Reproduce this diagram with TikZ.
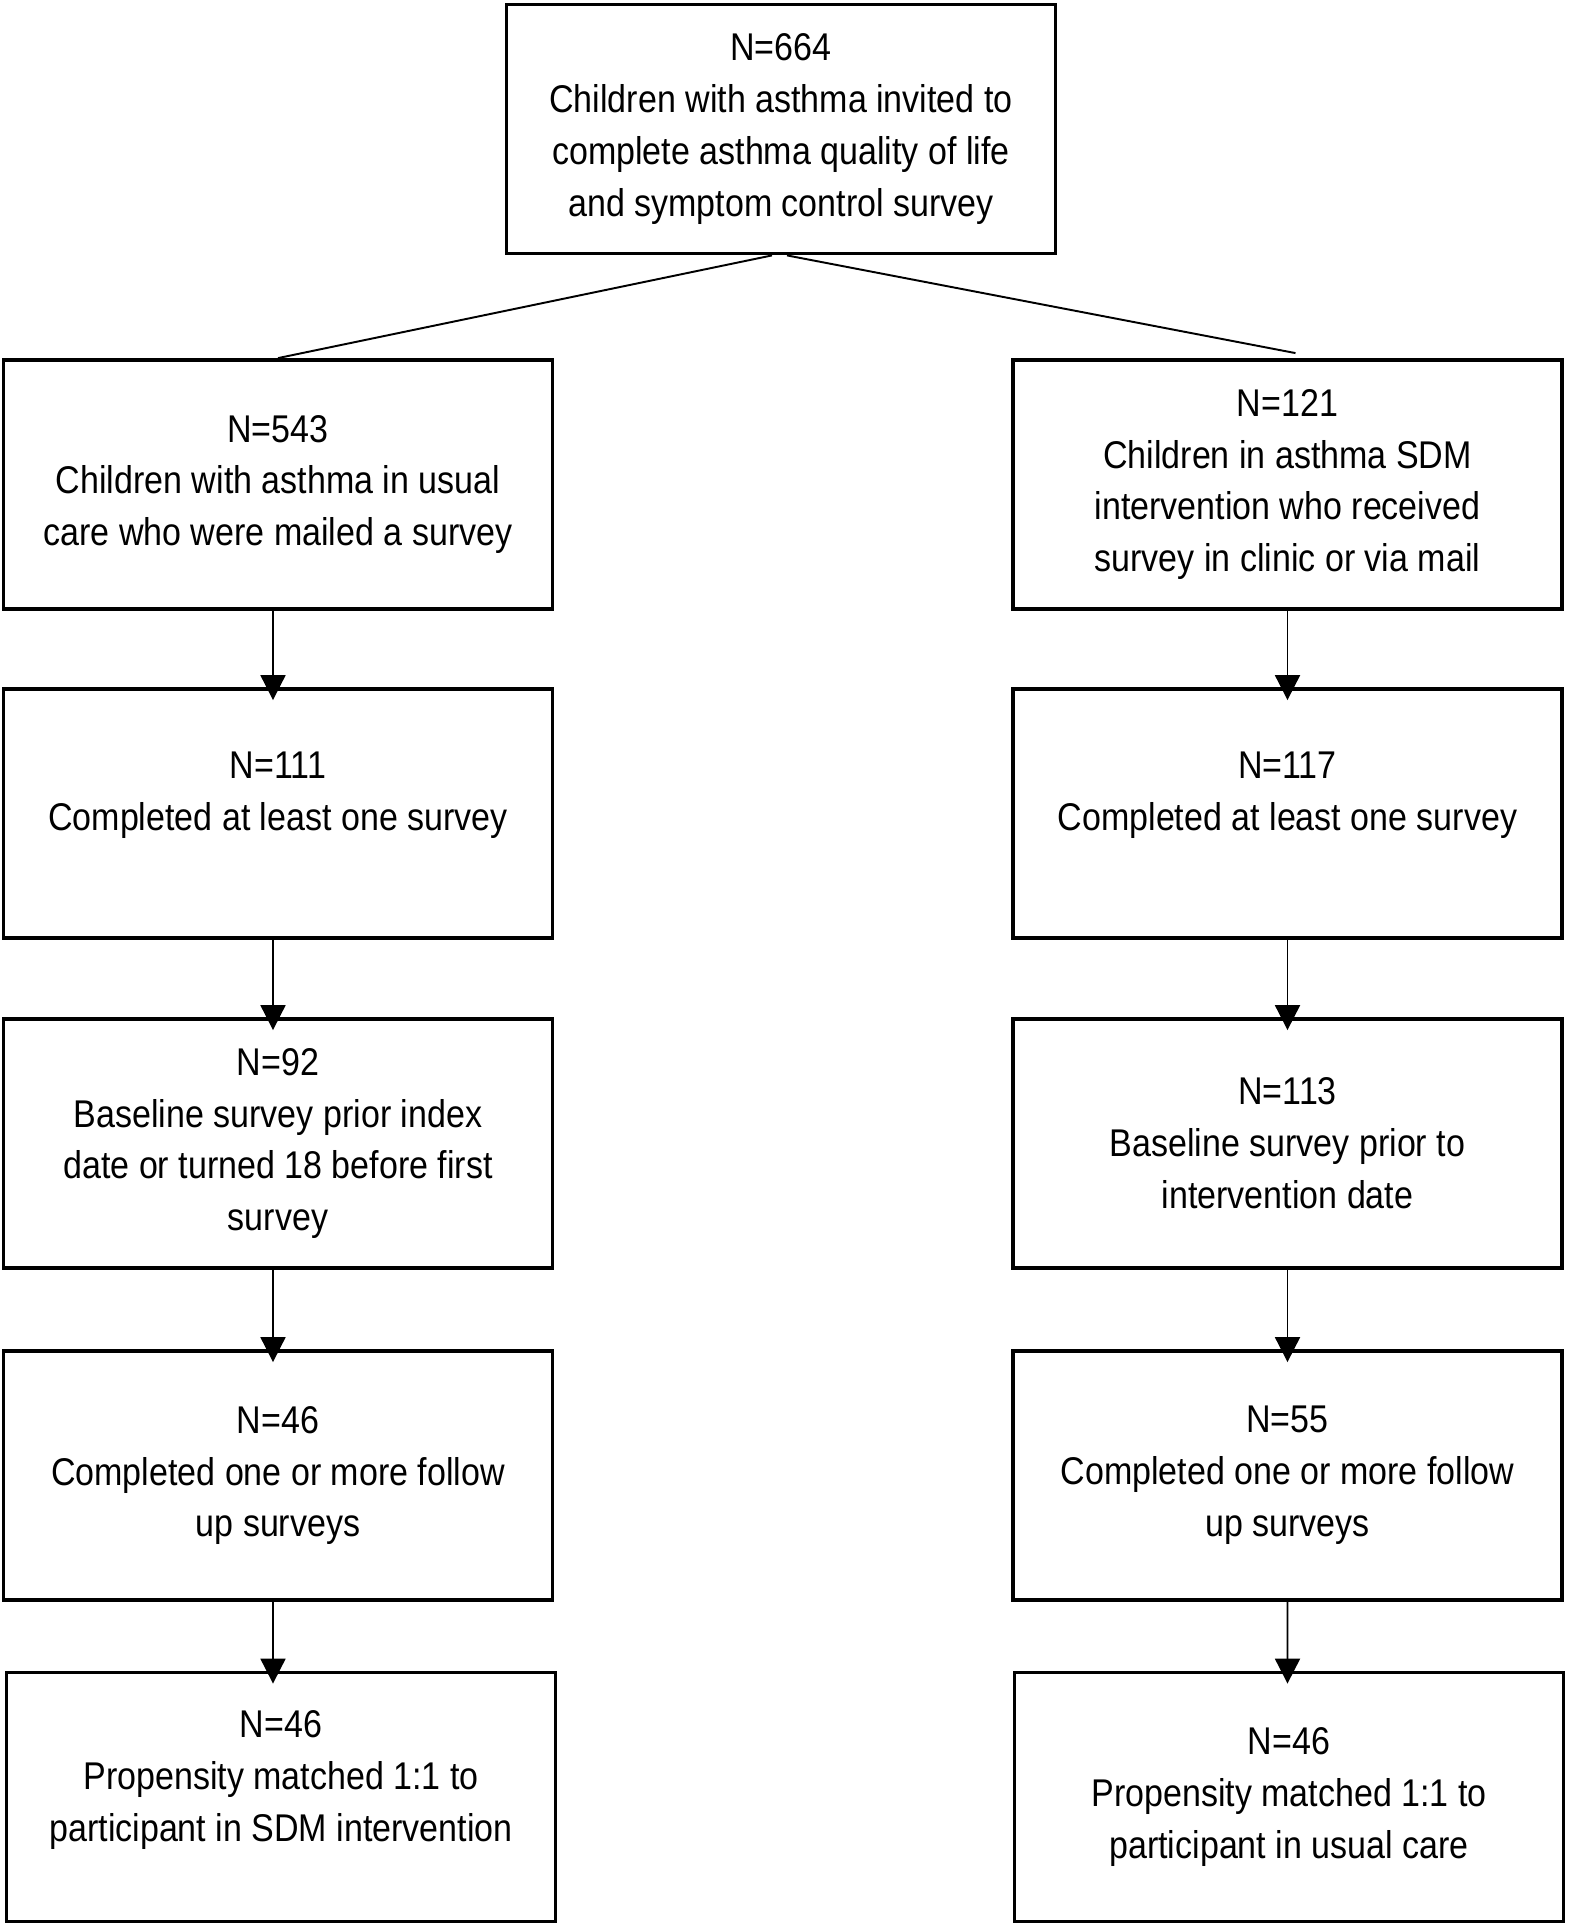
\documentclass[tikz,border=0pt]{standalone}
\usepackage{fontspec}
\setmainfont{Liberation Sans}[FakeStretch=0.88]
\usepackage{tikz}
\usetikzlibrary{calc}
\usetikzlibrary{arrows.meta}
\tikzset{
  box/.style={draw, line width=2.2pt, minimum width=10.98cm, minimum height=4.98cm, inner sep=0pt, align=center},
  txt/.style={align=center, inner sep=0pt},
  link/.style={line width=1.1pt},
  arr/.style={line width=1.1pt, -{Triangle[length=0.5cm, width=0.5cm]}, shorten >=-0.26cm},
}
\begin{document}
\begin{tikzpicture}[x=0.02cm, y=-0.02cm, font=\fontsize{22}{29.5}\selectfont]
\useasboundingbox (0,0) rectangle (1569,1928);
% top box
\node[box] (top) at (781,129) {N=664\\Children with asthma invited to\\complete asthma quality of life\\and symptom control survey};
%
% usual care (left)
\node[box] (l1) at (278,484.5) {N=543\\Children with asthma in usual\\care who were mailed a survey};
\node[box, label={[txt,yshift=0.36cm]center:{N=111\\Completed at least one survey}}] (l2) at (278,813.5) {};
\node[box] (l3) at (278,1143.5) {N=92\\Baseline survey prior index\\date or turned 18 before first\\survey};
\node[box] (l4) at (278,1475.5) {N=46\\Completed one or more follow\\up surveys};
\node[box, label={[txt,yshift=0.34cm]center:{N=46\\Propensity matched 1:1 to\\participant in SDM intervention}}] (l5) at (281,1797) {};
%
% SDM intervention (right)
\node[box] (r1) at (1287.5,484.5) {N=121\\Children in asthma SDM\\intervention who received\\survey in clinic or via mail};
\node[box, label={[txt,yshift=0.36cm]center:{N=117\\Completed at least one survey}}] (r2) at (1287.5,813.5) {};
\node[box] (r3) at (1287.5,1143.5) {N=113\\Baseline survey prior to\\intervention date};
\node[box] (r4) at (1287.5,1475.5) {N=55\\Completed one or more follow\\up surveys};
\node[box] (r5) at (1289,1797) {N=46\\Propensity matched 1:1 to\\participant in usual care};
%
\coordinate (rend) at ($(r1.north)+(8,-5)$);
\draw[link] ($(top.south)+(-9,0)$) -- (l1.north);
\draw[link] ($(top.south)+(6,0)$) -- (rend);
%
\foreach \a/\b in {l1/l2,l2/l3,l3/l4}
  \draw[arr] ($(\a.south)+(-5,0)$) -- ($(\b.north)+(-5,0)$);
\draw[arr] ($(l4.south)+(-5,0)$) -- ($(l5.north)+(-8,0)$);
\foreach \a/\b in {r1/r2,r2/r3,r3/r4}
  \draw[arr] (\a) -- (\b);
\draw[arr] (r4) -- ($(r5.north)+(-1.5,0)$);
\end{tikzpicture}
\end{document}
